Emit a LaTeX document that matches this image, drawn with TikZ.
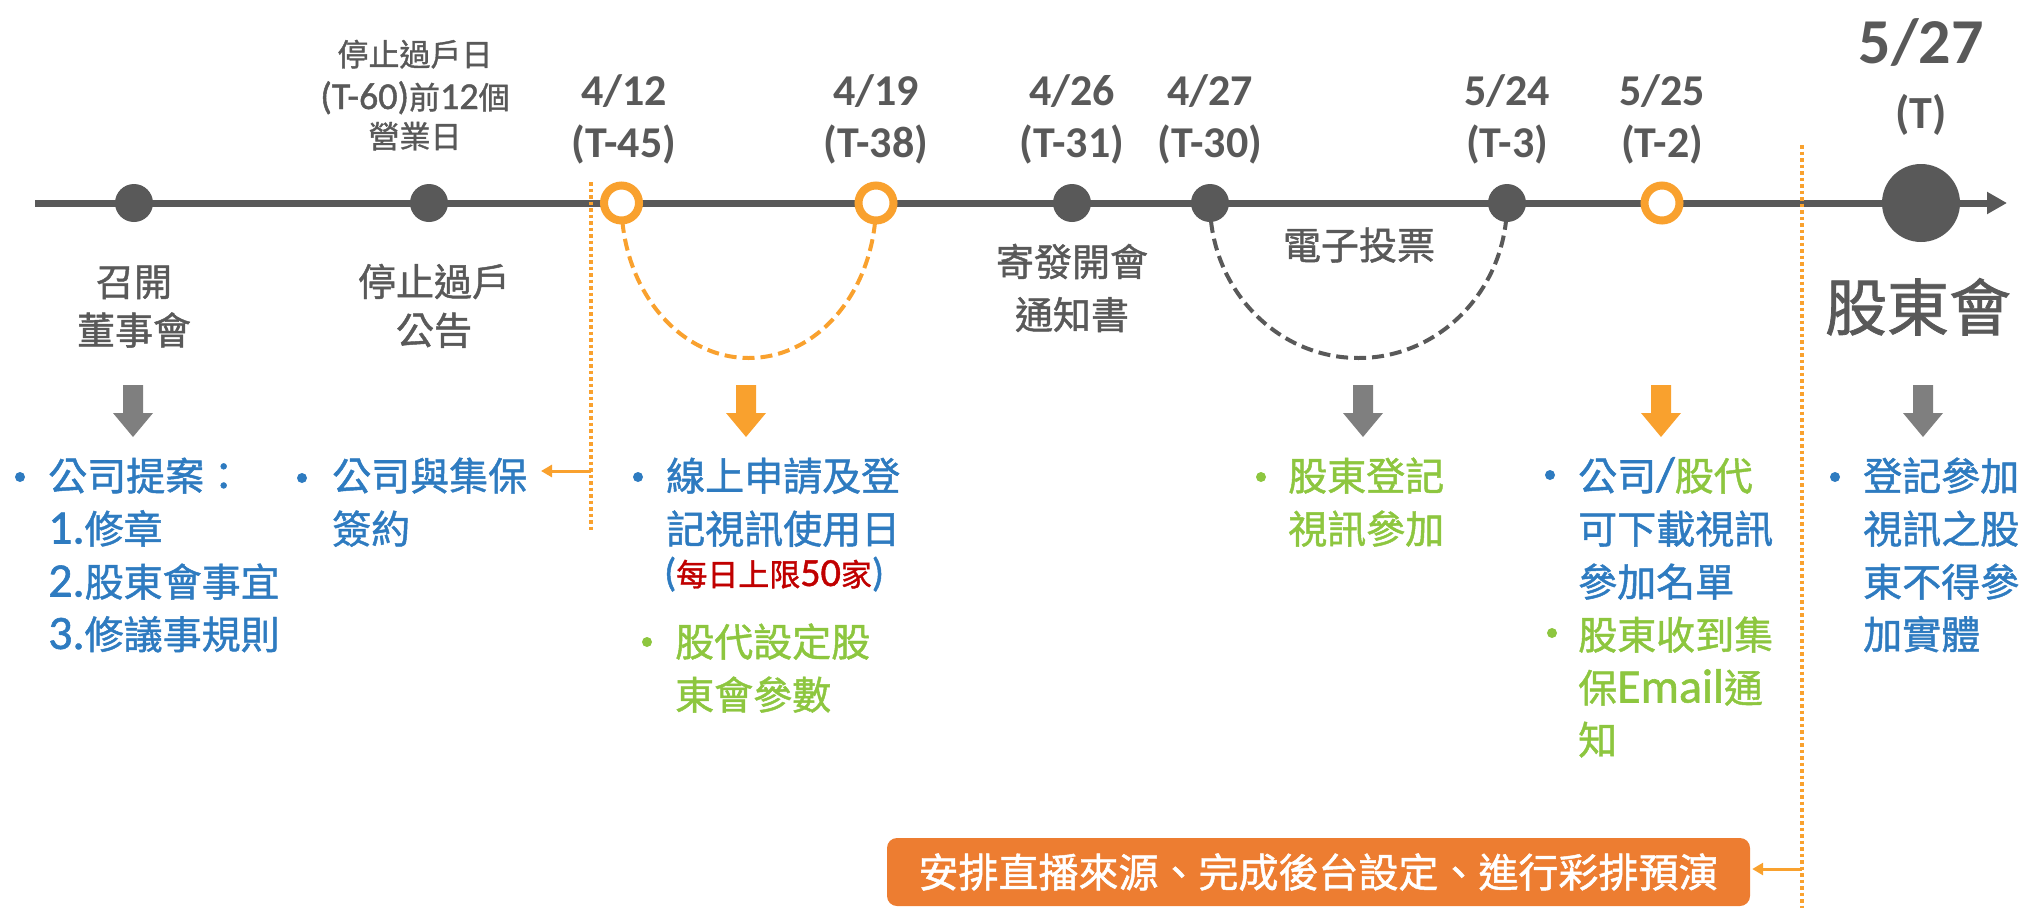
\documentclass[tikz,border=0pt]{standalone}
\usepackage{fontspec}
\setmainfont{Carlito}
\newfontfamily\cjk{Noto Sans CJK TC}[FakeBold=1.2]
\newfontfamily\latb{Carlito}[FakeBold=1.2]
\usetikzlibrary{arrows.meta}
\definecolor{tgray}{HTML}{595959}
\definecolor{agray}{HTML}{7F7F7F}
\definecolor{torange}{HTML}{F9A12E}
\definecolor{boxorange}{HTML}{ED7D31}
\definecolor{tblue}{HTML}{2E7BC0}
\definecolor{tgreen}{HTML}{8DC63F}
\definecolor{tred}{HTML}{C00000}
\newcommand\fs[1]{\fontsize{#1}{#1}\selectfont}
\newcommand\La[1]{{\latb\fs{48}#1}}
\newcommand\Lb[1]{{\latb\fs{38}#1}}
\newcommand\Lc[1]{{\latb\fs{40}#1}}
\newcommand\barrow[2]{\fill[#2] (#1-10,385) -- (#1+10,385) -- (#1+10,413) -- (#1+20,413) -- (#1,437) -- (#1-20,413) -- (#1-10,413) -- cycle;}
\begin{document}
\begin{tikzpicture}[x=1pt,y=-1pt,
  datelbl/.style={text=tgray, font=\fs{44}\bfseries, anchor=base, inner sep=0pt},
  evlbl/.style={text=tgray, font=\cjk\fs{38}, anchor=base, inner sep=0pt},
  smalllbl/.style={text=tgray, font=\cjk\fs{31}, anchor=base, inner sep=0pt},
  bline/.style={font=\cjk\fs{39}, anchor=base west, inner sep=0pt},
  bdot/.style={circle, inner sep=0pt, minimum size=10pt},
  sdot/.style={circle, fill=tgray, inner sep=0pt, minimum size=38pt},
  oring/.style={circle, draw=torange, line width=8pt, fill=white, inner sep=0pt, minimum size=35pt},
  odots/.style={draw=torange, line width=3.5pt, dash pattern=on 3.5pt off 3pt},
  oarr/.style={draw=torange, line width=3pt, -{Triangle[length=11pt,width=12pt]}},
  arcline/.style={line width=4pt, dash pattern=on 12pt off 6pt}
]
\useasboundingbox (0,0) rectangle (2027,908);

% timeline
\coordinate (tl0) at (35,203);
\coordinate (tl1) at (2007,203);
\draw[tgray, line width=7pt, -{Triangle[length=20pt,width=21pt]}] (tl0) -- (tl1);

% timeline points (positions)
\coordinate (p1) at (134,203);
\coordinate (p2) at (429,203);
\coordinate (p3) at (621.5,203);
\coordinate (p4) at (876,203);
\coordinate (p5) at (1072,203);
\coordinate (p6) at (1210,203);
\coordinate (p7) at (1507,203);
\coordinate (p8) at (1662,203);
\coordinate (p9) at (1921,203);

% dashed arcs
\draw[arcline, torange] (p3) arc[start angle=180, end angle=0, x radius=127.25, y radius=155];
\draw[arcline, tgray] (p6) arc[start angle=180, end angle=0, x radius=148.5, y radius=155];

% dotted vertical lines
\coordinate (v1t) at (591,182);
\coordinate (v1b) at (591,530);
\coordinate (v1a) at (591,471);
\coordinate (v1e) at (541,471);
\draw[odots] (v1t) -- (v1b);
\coordinate (v2t) at (1802,145);
\coordinate (v2b) at (1802,908);
\coordinate (v2a) at (1802,869);
\draw[odots] (v2t) -- (v2b);

% nodes on timeline
\node[sdot] (n1) at (p1) {};
\node[sdot] (n2) at (p2) {};
\node[oring] (n3) at (p3) {};
\node[oring] (n4) at (p4) {};
\node[sdot] (n5) at (p5) {};
\node[sdot] (n6) at (p6) {};
\node[sdot] (n7) at (p7) {};
\node[oring] (n8) at (p8) {};
\node[circle, fill=tgray, inner sep=0pt, minimum size=78pt] (n9) at (p9) {};

% dates
\node[smalllbl] (s2a) at (415,66) {停止過戶日};
\node[smalllbl] (s2b) at (415,109) {\Lb{(T-60)}前\Lb{12}個};
\node[smalllbl] (s2c) at (415,148) {營業日};
\node[datelbl] (d3a) at (624,105) {4/12};
\node[datelbl] (d3b) at (624,157) {(T-45)};
\node[datelbl] (d4a) at (876,105) {4/19};
\node[datelbl] (d4b) at (876,157) {(T-38)};
\node[datelbl] (d5a) at (1072,105) {4/26};
\node[datelbl] (d5b) at (1072,157) {(T-31)};
\node[datelbl] (d6a) at (1210,105) {4/27};
\node[datelbl] (d6b) at (1210,157) {(T-30)};
\node[datelbl] (d7a) at (1507,105) {5/24};
\node[datelbl] (d7b) at (1507,157) {(T-3)};
\node[datelbl] (d8a) at (1662,105) {5/25};
\node[datelbl] (d8b) at (1662,157) {(T-2)};
\node[datelbl, font=\fs{64}\bfseries] (d9a) at (1921,63) {5/27};
\node[datelbl, font=\fs{46}\bfseries] (d9b) at (1921,128) {(T)};

% event labels
\node[evlbl] (e1a) at (134,296) {召開};
\node[evlbl] (e1b) at (134,344.5) {董事會};
\node[evlbl] (e2a) at (434,296) {停止過戶};
\node[evlbl] (e2b) at (434,344.5) {公告};
\node[evlbl] (e5a) at (1072,276) {寄發開會};
\node[evlbl] (e5b) at (1072,329) {通知書};
\node[evlbl] (e67) at (1359,259.5) {電子投票};
\node[evlbl, font=\cjk\fs{62}] (e9) at (1918,330.5) {股東會};

% block arrows
\barrow{133}{agray}
\barrow{746}{torange}
\barrow{1363}{agray}
\barrow{1661}{torange}
\barrow{1923}{agray}

% column 1
\node[bdot, fill=tblue] (b1) at (20,477) {};
\node[bline, text=tblue] (t1a) at (48,490.5) {公司提案：};
\node[bline, text=tblue] (t1b) at (48,543.5) {\La{1.}修章};
\node[bline, text=tblue] (t1c) at (48,596.5) {\La{2.}股東會事宜};
\node[bline, text=tblue] (t1d) at (48,649) {\La{3.}修議事規則};

% column 2
\node[bdot, fill=tblue] (b2) at (302,478) {};
\node[bline, text=tblue] (t2a) at (332,490.5) {公司與集保};
\node[bline, text=tblue] (t2b) at (332,543.5) {簽約};
\draw[oarr] (v1a) -- (v1e);

% column 3
\node[bdot, fill=tblue] (b3) at (638,477) {};
\node[bline, text=tblue] (t3a) at (666,490.5) {線上申請及登};
\node[bline, text=tblue] (t3b) at (666,543.5) {記視訊使用日};
\node[bline, text=tblue, font=\cjk\fs{31}] (t3c) at (664,586) {\Lc{(}\textcolor{tred}{每日上限\Lc{50}家}\Lc{)}};
\node[bdot, fill=tgreen] (b3g) at (647,642) {};
\node[bline, text=tgreen] (t3d) at (675,656.5) {股代設定股};
\node[bline, text=tgreen] (t3e) at (675,709.5) {東會參數};

% column 4
\node[bdot, fill=tgreen] (b4) at (1261,477) {};
\node[bline, text=tgreen] (t4a) at (1288,490.5) {股東登記};
\node[bline, text=tgreen] (t4b) at (1288,543.5) {視訊參加};

% column 5
\node[bdot, fill=tblue] (b5) at (1550,475) {};
\node[bline, text=tblue] (t5a) at (1578,490.5) {公司\La{/}\textcolor{tgreen}{股代}};
\node[bline, text=tblue] (t5b) at (1578,543.5) {可下載視訊};
\node[bline, text=tblue] (t5c) at (1578,596.5) {參加名單};
\node[bdot, fill=tgreen] (b5g) at (1552,633) {};
\node[bline, text=tgreen] (t5d) at (1578,649.5) {股東收到集};
\node[bline, text=tgreen] (t5e) at (1578,702.5) {保\La{Email}通};
\node[bline, text=tgreen] (t5f) at (1578,754.5) {知};

% column 6
\node[bdot, fill=tblue] (b6) at (1835,477) {};
\node[bline, text=tblue] (t6a) at (1863,490.5) {登記參加};
\node[bline, text=tblue] (t6b) at (1863,543.5) {視訊之股};
\node[bline, text=tblue] (t6c) at (1863,596.5) {東不得參};
\node[bline, text=tblue] (t6d) at (1863,649) {加實體};

% bottom box
\node[fill=boxorange, rounded corners=10pt, minimum width=863pt, minimum height=68pt, inner sep=0pt, text=white, font=\cjk\fs{40}] (box) at (1318.5,872) {安排直播來源、完成後台設定、進行彩排預演};
\draw[oarr] (v2a) -- ([xshift=2pt]box.east |- v2a);
\end{tikzpicture}
\end{document}
